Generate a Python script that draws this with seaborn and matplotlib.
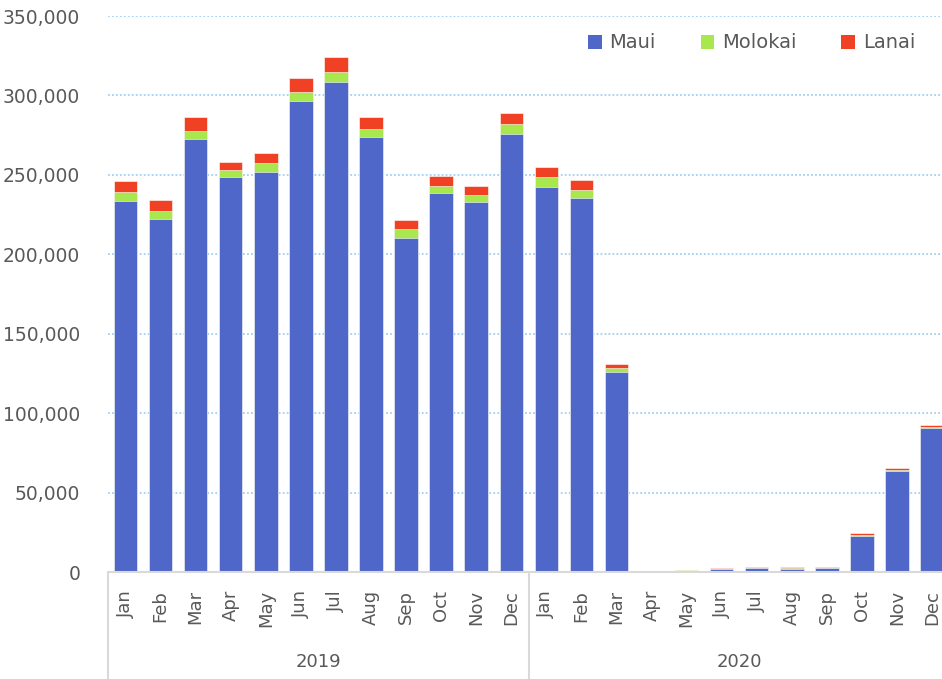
import matplotlib
matplotlib.use("Agg")
import matplotlib.pyplot as plt
import matplotlib.transforms as mtransforms
from matplotlib.lines import Line2D
from matplotlib.patches import Patch
import numpy as np
import pandas as pd
import seaborn as sns

# Datos: visitantes por mes e isla (2019 - 2020)
years = ["2019", "2020"]
months = ["Jan", "Feb", "Mar", "Apr", "May", "Jun",
          "Jul", "Aug", "Sep", "Oct", "Nov", "Dec"]
maui = [233700, 222000, 272600, 248400, 252000, 296500,
        308500, 274000, 210400, 238400, 232700, 275900,
        242600, 235200, 125900, 300, 900, 1800,
        2700, 2000, 2700, 22900, 63700, 90700]
molokai = [5700, 5400, 5000, 4600, 5300, 5900,
           6400, 4900, 5500, 4600, 4600, 6100,
           6300, 5300, 2500, 100, 200, 200,
           100, 600, 100, 300, 500, 700]
lanai = [6500, 6600, 8800, 5300, 6200, 8800,
         9500, 7700, 5700, 6300, 5500, 7100,
         6300, 6300, 2700, 500, 200, 400,
         300, 400, 400, 1200, 1300, 1300]

colores = {"Maui": "#4F67C8", "Molokai": "#A8E84E", "Lanai": "#F04124"}

df = pd.DataFrame({
    "slot": [f"{y}-{m}" for y in years for m in months],
    "mes": months * len(years),
    "Maui": maui,
    "Molokai": molokai,
    "Lanai": lanai,
})
# acumulados para apilar barras
df["tope_molokai"] = df["Maui"] + df["Molokai"]
df["tope_lanai"] = df["tope_molokai"] + df["Lanai"]

sns.set_style("white")
plt.rcParams["font.family"] = ["DejaVu Sans"]

fig = plt.figure(figsize=(9.42, 6.79), dpi=100)
ax = fig.add_axes([108 / 942, 1 - 572 / 679, 0.8934, 556 / 679])

orden = list(df["slot"])
for col, nombre in [("tope_lanai", "Lanai"), ("tope_molokai", "Molokai"), ("Maui", "Maui")]:
    sns.barplot(data=df, x="slot", y=col, order=orden, color=colores[nombre],
                width=0.67, saturation=1, edgecolor="white", linewidth=0.4, ax=ax)

ax.set_xlim(-0.5, len(orden) - 0.5)
ax.set_ylim(0, 350000)
ax.set_yticks(np.arange(0, 350001, 50000))
ax.set_yticklabels([f"{int(v):,}" for v in ax.get_yticks()], fontsize=13.5, color="#595959")
ax.set_xticks(range(len(orden)))
ax.set_xticklabels(df["mes"], rotation=90, fontsize=13, color="#595959")
ax.tick_params(axis="x", length=0, pad=13)
ax.tick_params(axis="y", length=0, pad=20)
ax.set_xlabel("")
ax.set_ylabel("")

ax.yaxis.grid(True, linestyle=(0, (1, 1.2)), color="#A3CFF2", linewidth=1.3)
ax.set_axisbelow(True)
for s in ["top", "right", "left"]:
    ax.spines[s].set_visible(False)
ax.spines["bottom"].set_color("#D9D9D9")
ax.spines["bottom"].set_linewidth(1.5)

# Etiquetas de año y separadores de grupo
trans = mtransforms.blended_transform_factory(ax.transData, ax.transAxes)
for i, y in enumerate(years):
    ax.text(i * 12 + 5.5, -0.162, y, transform=trans, ha="center", va="center",
            fontsize=13, color="#595959")
for xs in [-0.5, 11.5, 23.5]:
    ax.add_line(Line2D([xs, xs], [0, -0.2], transform=trans, color="#D9D9D9",
                       linewidth=1.5, clip_on=False))

handles = [Patch(facecolor=colores[n], edgecolor="none") for n in ["Maui", "Molokai", "Lanai"]]
fig.legend(handles, ["Maui", "Molokai", "Lanai"], loc="center right",
           bbox_to_anchor=(0.99, 1 - 43 / 679), ncol=3, frameon=False, fontsize=14,
           handlelength=0.7, handleheight=0.7, handletextpad=0.4, columnspacing=2.3,
           labelcolor="#595959")

fig.savefig("out.png", dpi=100)
